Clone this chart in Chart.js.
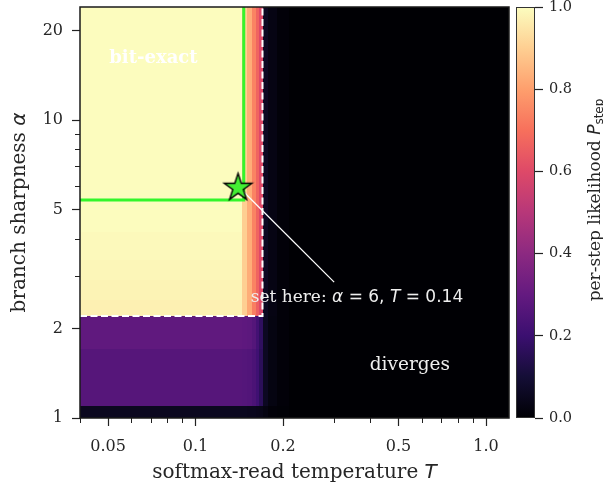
<!DOCTYPE html>
<html>
<head>
<meta charset="utf-8">
<script src="https://cdn.jsdelivr.net/npm/chart.js@4.4.1/dist/chart.umd.min.js"></script>
<style>
  html, body { margin: 0; padding: 0; background: #fff; }
  #wrap { position: relative; width: 603px; height: 485px; }
  #main { position: absolute; left: 0; top: 0; }
  #cbar { position: absolute; left: 500px; top: 0; }
</style>
</head>
<body>
<div id="wrap">
  <canvas id="main" width="603" height="485"></canvas>
  <canvas id="cbar" width="103" height="485"></canvas>
</div>
<script>
// --- data ---
// column edges along T, row edges along alpha (both log axes)
const tEdges = [0.04, 0.145, 0.150, 0.156, 0.161, 0.166, 0.171, 0.178, 0.19, 0.21, 1.2];
const alphaEdges = [1, 1.1, 1.7, 2.2, 2.5, 2.9, 3.4, 4.2, 24];
// P_step per cell, rows bottom -> top
const pRows = [
  [0.055, 0.055, 0.05, 0.05, 0.045, 0.04, 0.025, 0.01, 0.005, 0],
  [0.265, 0.26, 0.255, 0.24, 0.21, 0.16, 0.06, 0.025, 0.01, 0],
  [0.29, 0.285, 0.28, 0.26, 0.22, 0.17, 0.06, 0.025, 0.01, 0],
  [0.972, 0.9, 0.82, 0.73, 0.66, 0.6, 0.06, 0.03, 0.01, 0],
  [0.978, 0.9, 0.83, 0.74, 0.67, 0.6, 0.06, 0.03, 0.01, 0],
  [0.985, 0.9, 0.83, 0.74, 0.67, 0.6, 0.06, 0.03, 0.01, 0],
  [0.992, 0.9, 0.83, 0.74, 0.67, 0.6, 0.06, 0.03, 0.01, 0],
  [0.998, 0.9, 0.83, 0.74, 0.67, 0.6, 0.06, 0.03, 0.01, 0]
];

// green safe-region outline
const greenT = [0.04, 0.1465, 0.1465];
const greenAlpha = [5.4, 5.4, 24];
// dashed bit-exact boundary
const boundT = [0.04, 0.17, 0.17];
const boundAlpha = [2.2, 2.2, 24];
// chosen operating point + leader line end
const setT = [0.14];
const setAlpha = [6];
const leaderT = [0.14, 0.30];
const leaderAlpha = [6, 2.86];

const xTicks = [0.05, 0.1, 0.2, 0.5, 1.0];
const xTickLabels = ['0.05', '0.1', '0.2', '0.5', '1.0'];
const xMinor = [0.04, 0.06, 0.07, 0.08, 0.09, 0.3, 0.4, 0.6, 0.7, 0.8, 0.9];
const yTicks = [1, 2, 5, 10, 20];
const yTickLabels = ['1', '2', '5', '10', '20'];
const yMinor = [3, 4, 6, 7, 8, 9];
const cbTicks = [0, 0.2, 0.4, 0.6, 0.8, 1.0];

// magma colormap
const magmaStops = [
  [0.0, '#000004'], [0.1, '#140e36'], [0.2, '#3b0f70'], [0.3, '#641a80'],
  [0.4, '#8c2981'], [0.5, '#b73779'], [0.6, '#de4968'], [0.7, '#f7705c'],
  [0.8, '#fe9f6d'], [0.9, '#fecf92'], [1.0, '#fcfdbf']
];
function hexRgb(h) {
  return [parseInt(h.slice(1, 3), 16), parseInt(h.slice(3, 5), 16), parseInt(h.slice(5, 7), 16)];
}
function magma(v) {
  v = Math.max(0, Math.min(1, v));
  for (let i = 1; i < magmaStops.length; i++) {
    if (v <= magmaStops[i][0]) {
      const a = magmaStops[i - 1], b = magmaStops[i];
      const f = (v - a[0]) / (b[0] - a[0]);
      const ca = hexRgb(a[1]), cb = hexRgb(b[1]);
      const c = ca.map((x, k) => Math.round(x + (cb[k] - x) * f));
      return `rgb(${c[0]},${c[1]},${c[2]})`;
    }
  }
  return magmaStops[magmaStops.length - 1][1];
}

const SERIF = "'DejaVu Serif', serif";
const INK = '#262626';

// draw a row of differently styled text pieces
function drawRuns(ctx, runs, x, y, align) {
  let total = 0;
  runs.forEach(r => { ctx.font = r.font; r.w = ctx.measureText(r.text).width; total += r.w; });
  let cx = align === 'center' ? x - total / 2 : x;
  ctx.textAlign = 'left';
  ctx.textBaseline = 'alphabetic';
  runs.forEach(r => { ctx.font = r.font; ctx.fillText(r.text, cx, y + (r.dy || 0)); cx += r.w; });
}

// star marker image
function makeStar(R, fill) {
  const c = document.createElement('canvas');
  const s = Math.ceil(R * 2 + 4);
  c.width = s; c.height = s;
  const g = c.getContext('2d');
  const r = R * 0.382;
  g.beginPath();
  for (let i = 0; i < 10; i++) {
    const rad = i % 2 === 0 ? R : r;
    const ang = -Math.PI / 2 + i * Math.PI / 5;
    const px = s / 2 + rad * Math.cos(ang), py = s / 2 + R * 0.1 + rad * Math.sin(ang);
    if (i === 0) g.moveTo(px, py); else g.lineTo(px, py);
  }
  g.closePath();
  g.fillStyle = fill;
  g.fill();
  g.lineWidth = 1.4;
  g.strokeStyle = '#000';
  g.stroke();
  return c;
}
const starImg = makeStar(14.5, '#44ee33');

const toPts = (xs, ys) => xs.map((x, i) => ({ x: x, y: ys[i] }));
// keep the plot box exactly where the layout padding puts it
const noEdgePad = s => { s.paddingTop = 0; s.paddingBottom = 0; s.paddingLeft = 0; s.paddingRight = 0; };

const heatmapPlugin = {
  id: 'heatmap',
  beforeDatasetsDraw(chart) {
    const { ctx, chartArea: a, scales: { x, y } } = chart;
    ctx.save();
    ctx.beginPath();
    ctx.rect(a.left, a.top, a.right - a.left, a.bottom - a.top);
    ctx.clip();
    pRows.forEach((row, i) => {
      const y0 = Math.round(y.getPixelForValue(alphaEdges[i]));
      const y1 = Math.round(y.getPixelForValue(alphaEdges[i + 1]));
      row.forEach((v, j) => {
        const x0 = Math.round(x.getPixelForValue(tEdges[j]));
        const x1 = Math.round(x.getPixelForValue(tEdges[j + 1]));
        ctx.fillStyle = magma(v);
        ctx.fillRect(x0, y1, x1 - x0, y0 - y1);
      });
    });
    ctx.restore();
  },
  afterDatasetsDraw(chart) {
    const { ctx, scales: { x, y } } = chart;
    ctx.save();
    // region labels
    ctx.fillStyle = '#ffffff';
    ctx.textAlign = 'center';
    ctx.textBaseline = 'middle';
    ctx.font = `bold 18px ${SERIF}`;
    ctx.fillText('bit-exact', x.getPixelForValue(0.0716), y.getPixelForValue(16.1));
    ctx.fillStyle = '#eeeeee';
    ctx.font = `18.5px ${SERIF}`;
    ctx.fillText('diverges', x.getPixelForValue(0.547), y.getPixelForValue(1.506));
    // annotation text
    const fs = 17;
    drawRuns(ctx, [
      { text: 'set here: ', font: `${fs}px ${SERIF}` },
      { text: 'α', font: `italic ${fs}px 'DejaVu Sans'` },
      { text: ' = 6, ', font: `${fs}px 'DejaVu Sans'` },
      { text: 'T', font: `italic ${fs}px 'DejaVu Sans'` },
      { text: ' = 0.14', font: `${fs}px 'DejaVu Sans'` }
    ], x.getPixelForValue(0.1548), y.getPixelForValue(2.45), 'left');
    ctx.restore();
  },
  afterDraw(chart) {
    const { ctx, chartArea: a, scales: { x, y } } = chart;
    ctx.save();
    // minor ticks
    ctx.strokeStyle = '#222';
    ctx.lineWidth = 1;
    ctx.beginPath();
    xMinor.forEach(v => {
      const px = Math.round(x.getPixelForValue(v)) + 0.5;
      ctx.moveTo(px, a.bottom); ctx.lineTo(px, a.bottom + 5);
    });
    yMinor.forEach(v => {
      const py = Math.round(y.getPixelForValue(v)) + 0.5;
      ctx.moveTo(a.left, py); ctx.lineTo(a.left - 5, py);
    });
    ctx.stroke();
    // frame
    ctx.strokeStyle = '#1a1a1a';
    ctx.lineWidth = 1.5;
    ctx.strokeRect(a.left, a.top, a.right - a.left, a.bottom - a.top);
    // axis titles
    ctx.fillStyle = INK;
    drawRuns(ctx, [
      { text: 'softmax-read temperature ', font: `20px ${SERIF}` },
      { text: 'T', font: `italic 20px 'DejaVu Sans'` }
    ], (a.left + a.right) / 2, 478, 'center');
    ctx.translate(25, (a.top + a.bottom) / 2);
    ctx.rotate(-Math.PI / 2);
    drawRuns(ctx, [
      { text: 'branch sharpness ', font: `20px ${SERIF}` },
      { text: 'α', font: `italic 20px 'DejaVu Sans'` }
    ], 0, 0, 'center');
    ctx.restore();
  }
};

new Chart(document.getElementById('main'), {
  type: 'scatter',
  data: {
    datasets: [
      { label: 'set point', data: toPts(setT, setAlpha), pointStyle: starImg, pointRadius: 14, order: 0, clip: false },
      { label: 'leader', data: toPts(leaderT, leaderAlpha), showLine: true, borderColor: '#ffffff', borderWidth: 1.3, pointRadius: 0, order: 1 },
      { label: 'safe region', data: toPts(greenT, greenAlpha), showLine: true, borderColor: '#33f52b', borderWidth: 3, pointRadius: 0, order: 2, clip: 0 },
      { label: 'bit-exact boundary', data: toPts(boundT, boundAlpha), showLine: true, borderColor: '#ffffff', borderWidth: 2, borderDash: [7, 3.5], pointRadius: 0, order: 3, clip: 0 }
    ]
  },
  options: {
    responsive: false,
    animation: false,
    devicePixelRatio: 1,
    layout: { autoPadding: false, padding: { left: 0, right: 94, top: 7, bottom: 0 } },
    plugins: { legend: { display: false }, tooltip: { enabled: false } },
    scales: {
      x: {
        type: 'logarithmic', min: 0.04, max: 1.2,
        afterBuildTicks: s => { s.ticks = xTicks.map(v => ({ value: v })); },
        afterFit: s => { s.height = 67; noEdgePad(s); },
        ticks: {
          callback: v => xTickLabels[xTicks.indexOf(v)],
          font: { family: SERIF, size: 16 }, color: INK, padding: 11,
          maxRotation: 0, autoSkip: false
        },
        grid: { drawOnChartArea: false, drawTicks: true, tickLength: 8, tickWidth: 1.2, tickColor: '#222' },
        border: { display: false }
      },
      y: {
        type: 'logarithmic', min: 1, max: 24,
        afterBuildTicks: s => { s.ticks = yTicks.map(v => ({ value: v })); },
        afterFit: s => { s.width = 80; noEdgePad(s); },
        ticks: {
          callback: v => yTickLabels[yTicks.indexOf(v)],
          font: { family: SERIF, size: 16 }, color: INK, padding: 9, autoSkip: false
        },
        grid: { drawOnChartArea: false, drawTicks: true, tickLength: 8, tickWidth: 1.2, tickColor: '#222' },
        border: { display: false }
      }
    }
  },
  plugins: [heatmapPlugin]
});

// --- colorbar ---
const colorbarPlugin = {
  id: 'colorbar',
  beforeDatasetsDraw(chart) {
    const { ctx, chartArea: a, scales: { y } } = chart;
    const g = ctx.createLinearGradient(0, y.getPixelForValue(0), 0, y.getPixelForValue(1));
    magmaStops.forEach(s => g.addColorStop(s[0], s[1]));
    ctx.save();
    ctx.fillStyle = g;
    ctx.fillRect(a.left, a.top, a.right - a.left, a.bottom - a.top);
    ctx.strokeStyle = '#333';
    ctx.lineWidth = 1;
    ctx.strokeRect(a.left + 0.5, a.top + 0.5, a.right - a.left - 1, a.bottom - a.top - 1);
    ctx.restore();
  },
  afterDraw(chart) {
    const { ctx } = chart;
    ctx.save();
    ctx.fillStyle = INK;
    ctx.translate(100, 200);
    ctx.rotate(-Math.PI / 2);
    drawRuns(ctx, [
      { text: 'per-step likelihood ', font: `17px ${SERIF}` },
      { text: 'P', font: `italic 17px 'DejaVu Sans'` },
      { text: 'step', font: `12px 'DejaVu Sans'`, dy: 3 }
    ], 0, 0, 'center');
    ctx.restore();
  }
};

new Chart(document.getElementById('cbar'), {
  type: 'scatter',
  data: { datasets: [{ data: [] }] },
  options: {
    responsive: false,
    animation: false,
    devicePixelRatio: 1,
    layout: { autoPadding: false, padding: { left: 16, right: 0, top: 7, bottom: 67 } },
    plugins: { legend: { display: false }, tooltip: { enabled: false } },
    scales: {
      x: { display: false, min: 0, max: 1 },
      y: {
        position: 'right', min: 0, max: 1,
        afterBuildTicks: s => { s.ticks = cbTicks.map(v => ({ value: v })); },
        afterFit: s => { s.width = 68; noEdgePad(s); },
        ticks: {
          callback: v => v.toFixed(1),
          font: { family: SERIF, size: 14.5 }, color: INK, padding: 6
        },
        grid: { drawOnChartArea: false, drawTicks: true, tickLength: 8, tickWidth: 1.2, tickColor: '#222' },
        border: { display: false }
      }
    }
  },
  plugins: [colorbarPlugin]
});
</script>
</body>
</html>
